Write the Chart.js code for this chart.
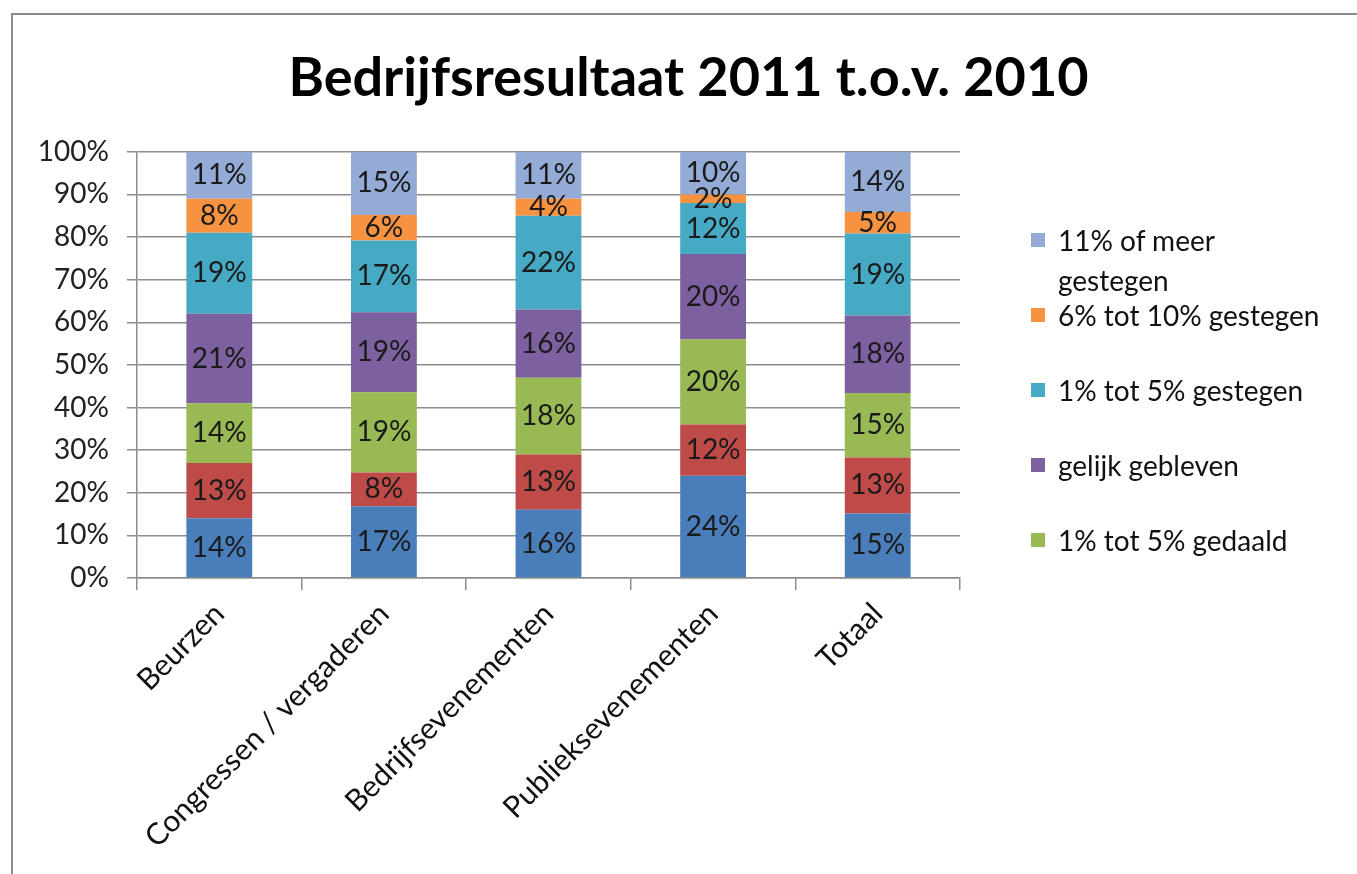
<!DOCTYPE html>
<html>
<head>
<meta charset="utf-8">
<title>Bedrijfsresultaat 2011 t.o.v. 2010</title>
<script src="https://cdn.jsdelivr.net/npm/chart.js@4.4.1/dist/chart.umd.min.js"></script>
<style>
  html, body { margin:0; padding:0; background:#fff; overflow:hidden; }
  #wrap { position:relative; width:1357px; height:874px; }
  #frame { position:absolute; left:11px; top:13px; width:2000px; height:2000px; border:2px solid #8a8a8a; box-sizing:border-box; }
  canvas { position:absolute; left:0; top:0; }
  #legend { position:absolute; left:0; top:0; font-family:Lato, 'Open Sans', sans-serif; font-size:28px; color:#111; }
  .lg-item { position:absolute; left:1031px; width:330px; line-height:40px; white-space:nowrap; }
  .lg-item:first-child { width:240px; white-space:normal; }
  .lg-box { position:absolute; left:0; top:13px; width:14px; height:14px; }
  .lg-text { margin-left:27px; display:block; }
</style>
</head>
<body>
<div id="wrap">
  <div id="frame"></div>
  <canvas id="chart" width="1357" height="874"></canvas>
  <div id="legend"></div>
</div>
<script>
const categories = ['Beurzen', 'Congressen / vergaderen', 'Bedrijfsevenementen', 'Publieksevenementen', 'Totaal'];

// series bottom -> top
const seriesNames = [
  '11% of meer gedaald',
  '6% tot 10% gedaald',
  '1% tot 5% gedaald',
  'gelijk gebleven',
  '1% tot 5% gestegen',
  '6% tot 10% gestegen',
  '11% of meer gestegen'
];
const seriesColors = ['#4a7ebb', '#be4b48', '#98b954', '#7d60a0', '#46aac5', '#f69240', '#94abd6'];

const gedaald11 = [14, 17, 16, 24, 15];
const gedaald6  = [13, 8, 13, 12, 13];
const gedaald1  = [14, 19, 18, 20, 15];
const gelijk    = [21, 19, 16, 20, 18];
const gestegen1 = [19, 17, 22, 12, 19];
const gestegen6 = [8, 6, 4, 2, 5];
const gestegen11 = [11, 15, 11, 10, 14];

const seriesValues = [gedaald11, gedaald6, gedaald1, gelijk, gestegen1, gestegen6, gestegen11];
const yTicks = [0, 10, 20, 30, 40, 50, 60, 70, 80, 90, 100];

const FONT = 'Lato, "Open Sans", sans-serif';
const GRID = '#8c8c8c';

// 100% stacked: scale each column to its own total
const totals = categories.map((c, i) => seriesValues.reduce((s, arr) => s + arr[i], 0));

const datasets = seriesValues.map((vals, k) => ({
  label: seriesNames[k],
  data: vals.map((v, i) => v / totals[i] * 100),
  raw: vals,
  backgroundColor: seriesColors[k],
  borderWidth: 0,
  categoryPercentage: 1,
  barPercentage: 0.4
}));

const segmentLabels = {
  id: 'segmentLabels',
  afterDatasetsDraw(chart){
    const ctx = chart.ctx;
    ctx.save();
    ctx.font = '28px ' + FONT;
    ctx.fillStyle = '#1a1a1a';
    ctx.textAlign = 'center';
    ctx.textBaseline = 'middle';
    chart.data.datasets.forEach((ds, k) => {
      chart.getDatasetMeta(k).data.forEach((bar, i) => {
        const mid = (bar.y + bar.base) / 2;
        ctx.fillText(ds.raw[i] + '%', bar.x, mid);
      });
    });
    ctx.restore();
  }
};

new Chart(document.getElementById('chart'), {
  type: 'bar',
  data: { labels: categories, datasets },
  plugins: [segmentLabels],
  options: {
    responsive: false,
    devicePixelRatio: 1,
    animation: false,
    layout: { padding: { left: 20, right: 0, top: 0, bottom: 0 } },
    plugins: {
      legend: { display: false },
      tooltip: { enabled: false },
      title: {
        display: true,
        text: 'Bedrijfsresultaat 2011 t.o.v. 2010',
        color: '#000',
        font: { family: FONT, size: 54, weight: 'bold' },
        padding: { top: 46, bottom: 41 }
      }
    },
    scales: {
      x: {
        stacked: true,
        offset: true,
        afterFit: s => { s.height = 296; },
        grid: { display: true, drawOnChartArea: false, drawTicks: true, tickLength: 12, color: GRID, lineWidth: 1.5, offset: true },
        border: { display: true, color: GRID, width: 1.5 },
        ticks: { color: '#111', font: { family: FONT, size: 30 }, maxRotation: 45, minRotation: 45, padding: 6, autoSkip: false }
      },
      y: {
        stacked: true,
        min: 0,
        max: 100,
        afterFit: s => { s.width = 117; },
        afterBuildTicks: s => { s.ticks = yTicks.map(v => ({ value: v })); },
        grid: { color: GRID, lineWidth: 1.5, tickLength: 10 },
        border: { display: true, color: GRID, width: 1.5 },
        ticks: { color: '#222', font: { family: FONT, size: 28 }, padding: 18, callback: v => v + '%' }
      },
      spacer: {
        type: 'linear',
        position: 'right',
        display: true,
        afterFit: s => { s.width = 397; },
        grid: { display: false, drawOnChartArea: false },
        border: { display: false },
        ticks: { display: false }
      }
    }
  }
});

// legend: top series first, only the first five fit in the frame
const legendEl = document.getElementById('legend');
const legendOrder = seriesNames.map((n, k) => k).reverse().slice(0, 5);
legendEl.innerHTML = legendOrder.map((k, j) => `
  <div class="lg-item" style="top:${220 + j * 75}px">
    <span class="lg-box" style="background:${seriesColors[k]}"></span>
    <span class="lg-text">${seriesNames[k]}</span>
  </div>`).join('');
</script>
</body>
</html>
